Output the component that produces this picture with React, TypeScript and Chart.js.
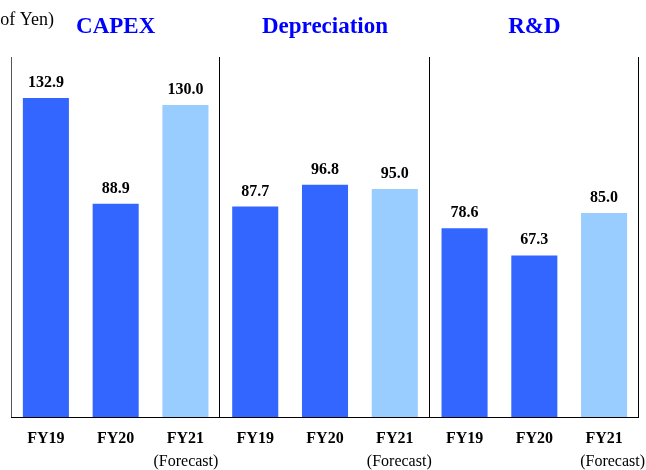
import React, { useEffect, useRef } from "react";
import { Chart, registerables } from "chart.js";

Chart.register(...registerables);

// Billions of yen, per fiscal year
const groups = ["CAPEX", "Depreciation", "R&D"];
const years = ["FY19", "FY20", "FY21"];
const capex = [132.9, 88.9, 130.0];
const depreciation = [87.7, 96.8, 95.0];
const rnd = [78.6, 67.3, 85.0];
const forecastYear = "FY21";
const forecastNote = "(Forecast)";
const unitLabel = "(Billions of Yen)";
const yMax = 150;

const ACTUAL = "#3366FF";
const FORECAST = "#99CCFF";
const TITLE = "#0000FF";
const SERIF = '"Liberation Serif", "Times New Roman", serif';

const seriesByGroup = [capex, depreciation, rnd];
const labels: string[] = [];
const values: number[] = [];
const colors: string[] = [];
groups.forEach((g, gi) => {
  years.forEach((y, yi) => {
    labels.push(`${g} ${y}`);
    values.push(seriesByGroup[gi][yi]);
    colors.push(y === forecastYear ? FORECAST : ACTUAL);
  });
});

const decorPlugin = {
  id: "panelDecor",
  afterDraw(chart: any) {
    const { ctx, chartArea } = chart;
    const xs = chart.scales.x;
    const { left, right, top, bottom } = chartArea;
    const per = years.length;
    const step = (right - left) / labels.length;

    ctx.save();
    // frame: left axis, panel separators, right edge, baseline
    ctx.lineWidth = 1;
    ctx.strokeStyle = "#555";
    ctx.beginPath();
    ctx.moveTo(left + 0.5, top);
    ctx.lineTo(left + 0.5, bottom);
    ctx.stroke();
    ctx.strokeStyle = "#000";
    for (let g = 1; g <= groups.length; g++) {
      const x = Math.round(left + step * per * g) - 0.5;
      ctx.beginPath();
      ctx.moveTo(x, top);
      ctx.lineTo(x, bottom);
      ctx.stroke();
    }
    ctx.beginPath();
    ctx.moveTo(left, bottom + 0.5);
    ctx.lineTo(right, bottom + 0.5);
    ctx.stroke();

    // unit label (runs off the left edge)
    ctx.fillStyle = "#000";
    ctx.font = `18px ${SERIF}`;
    ctx.textAlign = "right";
    ctx.textBaseline = "alphabetic";
    ctx.fillText(unitLabel, 54, 25);

    // panel titles
    ctx.fillStyle = TITLE;
    ctx.font = `bold 23px ${SERIF}`;
    ctx.textAlign = "center";
    groups.forEach((g, gi) => {
      const cx = left + step * per * (gi + 0.5);
      ctx.fillText(g, cx, 33);
    });

    // value labels above bars
    const meta = chart.getDatasetMeta(0);
    ctx.fillStyle = "#000";
    ctx.font = `bold 16px ${SERIF}`;
    meta.data.forEach((bar: any, i: number) => {
      ctx.fillText(values[i].toFixed(1), bar.x, bar.y - 11);
    });

    // category labels
    labels.forEach((_, i) => {
      const x = xs.getPixelForValue(i);
      const yr = years[i % per];
      ctx.font = `bold 16px ${SERIF}`;
      ctx.fillText(yr, x, 443);
      if (yr === forecastYear) {
        ctx.font = `16px ${SERIF}`;
        ctx.fillText(forecastNote, x + 0.5 + 4 * Math.floor(i / per), 466);
      }
    });
    ctx.restore();
  },
};

export default function App() {
  const ref = useRef<HTMLCanvasElement>(null);

  useEffect(() => {
    if (!ref.current) return;
    const chart = new Chart(ref.current, {
      type: "bar",
      data: {
        labels,
        datasets: [
          {
            data: values,
            backgroundColor: colors,
            borderWidth: 0,
            categoryPercentage: 1,
            barPercentage: 0.66,
          },
        ],
      },
      options: {
        responsive: false,
        animation: false,
        devicePixelRatio: 1,
        layout: { padding: { left: 11, right: 7, top: 57, bottom: 53 } },
        plugins: {
          legend: { display: false },
          tooltip: { enabled: false },
          title: { display: false },
        },
        scales: {
          x: { display: false, offset: true, grid: { display: false } },
          y: { display: false, min: 0, max: yMax },
        },
      },
      plugins: [decorPlugin],
    });
    return () => chart.destroy();
  }, []);

  return (
    <div style={{ position: "fixed", left: 0, top: 0, width: 646, height: 470, background: "#fff" }}>
      <canvas ref={ref} width={646} height={470} style={{ display: "block" }} />
    </div>
  );
}
